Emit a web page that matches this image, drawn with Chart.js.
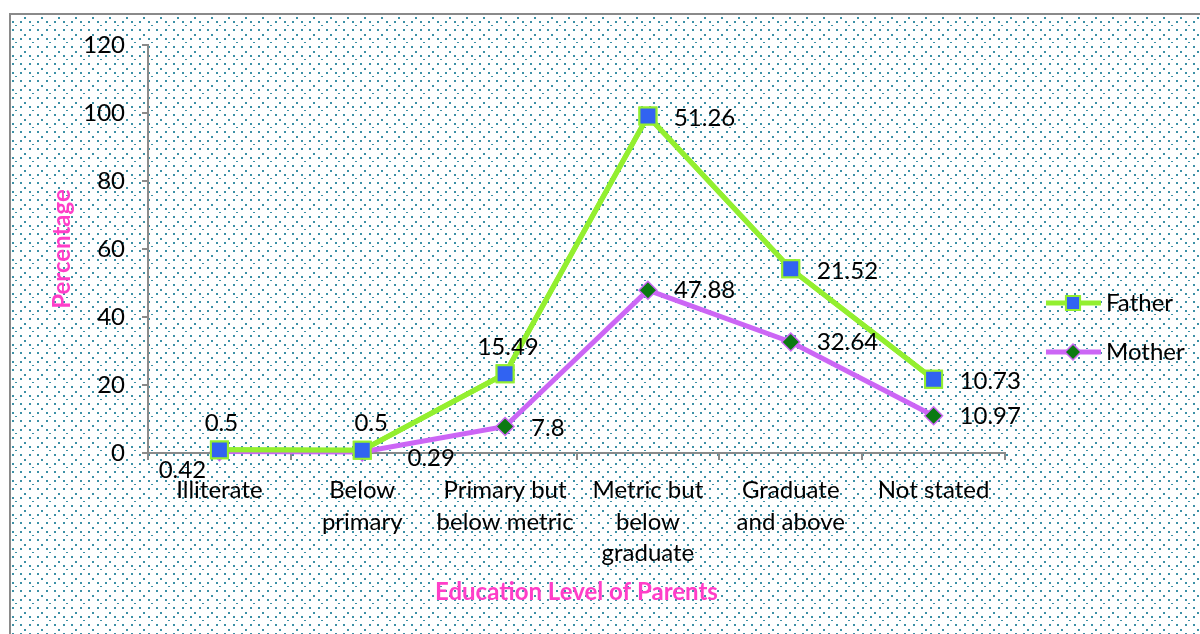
<!DOCTYPE html>
<html lang="en">
<head>
<meta charset="UTF-8">
<title>Education Level of Parents</title>
<script src="https://cdn.jsdelivr.net/npm/chart.js@4/dist/chart.umd.min.js"></script>
<style>
  html, body { margin: 0; padding: 0; background: #fff; }
  #wrap { width: 1200px; height: 634px; position: relative; }
</style>
</head>
<body>
<div id="wrap"><canvas id="chart"></canvas></div>
<script>
const categories = [
  ["Illiterate"],
  ["Below", "primary"],
  ["Primary but", "below metric"],
  ["Metric but", "below", "graduate"],
  ["Graduate", "and above"],
  ["Not stated"],
]
const fatherValues = [0.5, 0.5, 15.49, 51.26, 21.52, 10.73]
const motherValues = [0.42, 0.29, 7.8, 47.88, 32.64, 10.97]
const yMin = 0, yMax = 120, yStep = 20

// label placement per point: [dx, dy, textAlign]
const fatherLabelPos = [[2, -27, "center"], [9, -27, "center"], [3, -27, "center"],
                        [26, 2, "left"], [26, 2, "left"], [26, 2, "left"]]
const motherLabelPos = [[-37, 19, "center"], [69, 6, "center"], [26, 2, "left"],
                        [26, 0, "left"], [26, 0, "left"], [26, 1, "left"]]

const FONT = "Lato, 'Open Sans', sans-serif"
const FS = 24
const PINK = "#ff3ec8"
const GREEN = "#93ef2f"
const VIOLET = "#cc66f5"
const AXIS = "#8a8a8a"

Chart.defaults.font.family = FONT
Chart.defaults.font.size = FS
Chart.defaults.color = "#000"

// dotted background tile
const tile = document.createElement("canvas")
tile.width = 17; tile.height = 17
const tc = tile.getContext("2d")
tc.fillStyle = "rgba(40,132,156,0.9)"
;[[7, 0], [3, 4], [12, 4], [3, 12], [12, 12]].forEach(([x, y]) => tc.fillRect(x, y, 2, 2))
tc.fillRect(15, 8, 2, 1)

const backgroundPlugin = {
  id: "background",
  beforeDraw(chart) {
    const ctx = chart.ctx
    ctx.save()
    ctx.fillStyle = "#fff"
    ctx.fillRect(0, 0, chart.width, chart.height)
    ctx.fillStyle = ctx.createPattern(tile, "repeat")
    ctx.fillRect(10, 14, chart.width - 10, chart.height - 14)
    ctx.strokeStyle = AXIS
    ctx.lineWidth = 2
    ctx.beginPath()
    ctx.moveTo(10, chart.height)
    ctx.lineTo(10, 14)
    ctx.lineTo(chart.width, 14)
    ctx.stroke()
    ctx.restore()
  }
}

const labelPlugin = {
  id: "valueLabels",
  afterDatasetsDraw(chart) {
    // father sits on top of mother in the stack, draw it last
    chart.getDatasetMeta(1).controller.draw()
    const ctx = chart.ctx
    ctx.save()
    ctx.font = FS + "px " + FONT
    ctx.fillStyle = "#000"
    ctx.textBaseline = "middle"
    chart.data.datasets.forEach((ds, di) => {
      const meta = chart.getDatasetMeta(di)
      meta.data.forEach((pt, i) => {
        const [dx, dy, align] = ds.labelPos[i]
        ctx.textAlign = align
        ctx.fillText(String(ds.data[i]), pt.x + dx, pt.y + dy)
      })
    })
    ctx.restore()
  }
}

const legendPlugin = {
  id: "sideLegend",
  afterDraw(chart) {
    const ctx = chart.ctx
    const order = [1, 0]
    ctx.save()
    order.forEach((di, row) => {
      const ds = chart.data.datasets[di]
      const y = 303 + row * 49
      ctx.strokeStyle = ds.borderColor
      ctx.lineWidth = ds.borderWidth
      ctx.beginPath()
      ctx.moveTo(1046, y)
      ctx.lineTo(1101, y)
      ctx.stroke()
      ctx.fillStyle = ds.pointBackgroundColor
      ctx.strokeStyle = ds.pointBorderColor
      ctx.lineWidth = ds.pointBorderWidth
      Chart.helpers.drawPoint(ctx, {
        pointStyle: ds.pointStyle,
        radius: ds.pointStyle === "rect" ? 10 : 8,
        rotation: 0,
        borderWidth: ds.pointBorderWidth
      }, 1073, y)
      ctx.fillStyle = "#000"
      ctx.font = FS + "px " + FONT
      ctx.textAlign = "left"
      ctx.textBaseline = "middle"
      ctx.fillText(ds.label, 1106, y)
    })
    ctx.restore()
  }
}

new Chart(document.getElementById("chart"), {
  type: "line",
  data: {
    labels: categories,
    datasets: [
      {
        label: "Mother",
        data: motherValues,
        labelPos: motherLabelPos,
        borderColor: VIOLET,
        borderWidth: 5,
        pointStyle: "rectRot",
        pointRadius: 9,
        pointBackgroundColor: "#0b7a12",
        pointBorderColor: VIOLET,
        pointBorderWidth: 1.5,
        tension: 0,
        clip: false,
      },
      {
        label: "Father",
        data: fatherValues,
        labelPos: fatherLabelPos,
        borderColor: GREEN,
        borderWidth: 5,
        pointStyle: "rect",
        pointRadius: 12,
        pointBackgroundColor: "#3163f2",
        pointBorderColor: GREEN,
        pointBorderWidth: 2,
        tension: 0,
        clip: false,
      },
    ]
  },
  options: {
    responsive: true,
    maintainAspectRatio: false,
    animation: false,
    layout: { padding: { left: 0, top: 45, right: 195, bottom: 0 } },
    plugins: { legend: { display: false }, tooltip: { enabled: false } },
    scales: {
      x: {
        type: "category",
        offset: true,
        grid: { offset: true, drawOnChartArea: false, tickLength: 7, color: AXIS, lineWidth: 2 },
        border: { color: AXIS, width: 2 },
        ticks: { maxRotation: 0, autoSkip: false, padding: 15, font: { size: FS, lineHeight: 1.3 } },
        title: {
          display: true,
          text: "Education Level of Parents",
          color: PINK,
          font: { size: FS, weight: "bold" },
          padding: { top: 0, bottom: 27 }
        },
        afterFit(scale) { scale.height = 181 }
      },
      y: {
        stacked: true,
        min: yMin,
        max: yMax,
        ticks: { stepSize: yStep, padding: 17, font: { size: FS } },
        grid: { drawOnChartArea: false, tickLength: 6, color: AXIS, lineWidth: 2 },
        border: { color: AXIS, width: 2 },
        title: {
          display: true,
          text: "Percentage",
          color: PINK,
          font: { size: FS, weight: "bold" },
          padding: { top: 48, bottom: 0 }
        },
        afterFit(scale) { scale.width = 148 }
      }
    }
  },
  plugins: [backgroundPlugin, labelPlugin, legendPlugin]
})
</script>
</body>
</html>
